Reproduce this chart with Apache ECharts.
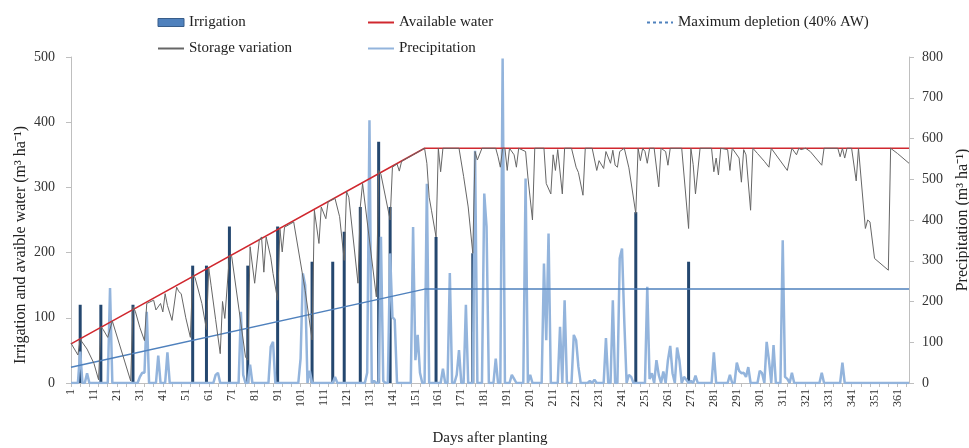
<!DOCTYPE html>
<html><head><meta charset="utf-8">
<script src="https://cdn.jsdelivr.net/npm/echarts@6/dist/echarts.min.js"></script>
<style>html,body{margin:0;padding:0;background:#fff}#c{width:969px;height:448px}</style>
</head><body><div id="c"></div>
<script>
// categories: days after planting 1..366
const dayCategories = [];
for (let d = 1; d <= 366; d++) dayCategories.push(String(d));

const leftTicks = [0, 100, 200, 300, 400, 500];
const rightTicks = [0, 100, 200, 300, 400, 500, 600, 700, 800];

// Irrigation events (m3/ha)
const irrigationDays   = [5, 14, 28, 54, 60, 70, 78, 91, 106, 115, 120, 127, 135, 140, 160, 176, 247, 270];
const irrigationValues = [120, 120, 120, 180, 180, 240, 180, 240, 186, 186, 232, 270, 370, 270, 224, 199, 262, 186];

// Available water (break points of the line)
const awDays   = [1, 155, 366];
const awValues = [60, 360, 360];

// Maximum depletion (40% AW)
const depDays   = [1, 155, 366];
const depValues = [24, 144, 144];

// Storage variation (break points)
const storageDays = [1,4,5,8,11,13,14,15,17,19,27,28,29,31,33,34,37,38,40,41,42,43,45,47,48,49,51,53,54,55,58,60,61,62,64,66,67,68,70,71,77,78,79,81,83,84,85,86,88,89,91,92,93,94,96,98,103,106,107,109,110,112,113,116,118,120,121,122,126,127,128,134,135,136,140,141,143,144,145,155,156,157,158,160,161,162,163,170,172,174,176,177,178,180,186,187,188,189,190,191,192,194,195,196,199,200,202,203,207,208,210,211,212,213,215,216,219,221,222,224,225,228,230,231,233,234,236,237,238,239,240,242,244,247,248,249,250,251,252,253,255,257,258,260,261,262,267,270,271,272,273,275,280,281,282,283,284,287,288,289,292,293,294,295,297,298,300,303,305,306,313,315,317,318,319,321,323,328,329,335,336,337,338,339,341,343,344,347,348,349,351,357,358,361,366];
const storageValues = [61,43,67,52,30,5,86,82,70,95,3,117,110,85,65,122,127,112,122,109,137,119,96,147,140,137,100,70,165,162,122,82,176,150,97,45,125,99,195,194,40,35,209,153,219,224,170,224,193,168,127,236,201,239,243,247,142,66,265,214,270,252,278,283,255,188,294,285,153,270,306,132,326,320,250,331,336,325,340,360,337,285,265,224,360,324,360,360,317,270,199,355,342,360,360,347,331,360,360,326,360,350,331,360,355,316,250,360,360,306,290,350,326,358,290,360,360,331,323,288,360,360,326,341,329,355,337,357,334,331,355,360,330,260,360,341,360,355,337,360,360,301,360,355,334,360,360,237,360,335,290,360,360,324,345,319,360,358,326,360,345,308,358,350,265,360,352,340,331,360,326,360,350,360,358,360,355,334,360,360,347,360,345,360,360,310,360,237,250,247,191,173,360,352,337];

// Precipitation (days with rain; all other days are 0)
const precipDays = [5,8,18,31,32,33,34,39,43,64,65,75,76,79,88,89,101,102,103,105,116,130,131,133,136,137,140,141,142,150,151,152,153,156,163,166,169,170,173,177,181,182,186,189,193,194,199,201,207,208,209,214,216,220,221,222,227,229,234,237,240,241,242,244,245,252,253,254,256,257,259,261,262,263,265,266,268,269,271,273,281,288,291,292,293,294,295,296,301,302,304,305,307,311,312,313,315,328,337];
const precipValues = [77,24,233,15,25,25,175,67,75,20,25,175,20,45,89,101,60,269,240,30,15,25,645,5,359,5,318,162,155,383,56,118,25,489,35,270,20,81,192,570,465,383,60,796,20,10,502,20,293,105,367,138,203,118,105,40,5,8,110,203,306,330,150,20,15,236,10,24,56,20,28,56,91,24,87,56,15,8,5,18,75,20,50,30,24,25,15,39,30,24,101,56,93,350,15,10,25,25,50];

const serif = "'Liberation Serif','Times New Roman',serif";

const irrigationData = irrigationDays.map((d, i) => [String(d), irrigationValues[i]]);
const awData = awDays.map((d, i) => [String(d), awValues[i]]);
const depData = depDays.map((d, i) => [String(d), depValues[i]]);
const storageData = storageDays.map((d, i) => [String(d), storageValues[i]]);
const precipData = dayCategories.map(() => 0);
precipDays.forEach((d, i) => { precipData[d - 1] = precipValues[i]; });

const legendText = { fontFamily: serif, fontSize: 15, color: '#222' };
const legendBase = { orient: 'vertical', itemGap: 11, itemWidth: 26, itemHeight: 8, textStyle: legendText,
  selectedMode: false, itemStyle: { opacity: 0 } };

const chart = echarts.init(document.getElementById('c'));
chart.setOption({
  animation: false,
  backgroundColor: '#fff',
  grid: { left: 71, right: 60, top: 57, bottom: 65, outerBoundsMode: 'none', containLabel: false },
  legend: [
    Object.assign({}, legendBase, { left: 152, top: 10, data: [
      { name: 'Irrigation', icon: 'rect', itemStyle: { color: '#4f81bd', borderColor: '#385d8a', borderWidth: 1, opacity: 1 } },
      { name: 'Storage variation' }
    ] }),
    Object.assign({}, legendBase, { left: 362, top: 10, data: [
      { name: 'Available water' },
      { name: 'Precipitation' }
    ] }),
    Object.assign({}, legendBase, { left: 641, top: 10, data: [
      { name: 'Maximum depletion (40% AW)', lineStyle: { type: [3, 3] } }
    ] })
  ],
  xAxis: {
    type: 'category', data: dayCategories, boundaryGap: false,
    axisLine: { lineStyle: { color: '#bfbfbf' } },
    axisTick: { show: true, interval: 3, length: 4, lineStyle: { color: '#bfbfbf' } },
    axisLabel: { interval: 9, rotate: 90, fontFamily: serif, fontSize: 12, color: '#333', margin: 6 },
    splitLine: { show: false },
    name: 'Days after planting', nameLocation: 'middle', nameGap: 48, nameMoveOverlap: false,
    nameTextStyle: { fontFamily: serif, fontSize: 15, color: '#222' }
  },
  yAxis: [
    {
      type: 'value', min: leftTicks[0], max: leftTicks[leftTicks.length - 1], interval: 100, position: 'left',
      axisLine: { show: true, lineStyle: { color: '#bfbfbf' } },
      axisTick: { show: true, length: 5, lineStyle: { color: '#bfbfbf' } },
      axisLabel: { fontFamily: serif, fontSize: 14, color: '#333', margin: 16 },
      splitLine: { show: false },
      name: 'Irrigation and avaible water (m³ ha⁻¹)', nameLocation: 'middle', nameGap: 42, nameRotate: 90,
      nameMoveOverlap: false,
      nameTextStyle: { fontFamily: serif, fontSize: 16, color: '#222', padding: [0, 50, 0, 0] }
    },
    {
      type: 'value', min: rightTicks[0], max: rightTicks[rightTicks.length - 1], interval: 100, position: 'right',
      axisLine: { show: true, lineStyle: { color: '#bfbfbf' } },
      axisTick: { show: true, length: 5, lineStyle: { color: '#bfbfbf' } },
      axisLabel: { fontFamily: serif, fontSize: 14, color: '#333', margin: 13 },
      splitLine: { show: false },
      name: 'Precipitation (m³ ha⁻¹)', nameLocation: 'middle', nameGap: 46, nameRotate: 90,
      nameTextStyle: { fontFamily: serif, fontSize: 16, color: '#222' }
    }
  ],
  series: [
    { name: 'Irrigation', type: 'bar', yAxisIndex: 0, data: irrigationData, barWidth: 3,
      itemStyle: { color: '#24476f' }, z: 2 },
    { name: 'Available water', type: 'line', yAxisIndex: 0, data: awData, symbol: 'none',
      lineStyle: { color: '#d0282f', width: 1.5 }, itemStyle: { color: '#d0282f' }, z: 4 },
    { name: 'Maximum depletion (40% AW)', type: 'line', yAxisIndex: 0, data: depData, symbol: 'none',
      lineStyle: { color: '#4f81bd', width: 1.5 }, itemStyle: { color: '#4f81bd' }, z: 4 },
    { name: 'Storage variation', type: 'line', yAxisIndex: 0, data: storageData, symbol: 'none',
      lineStyle: { color: '#666666', width: 1 }, itemStyle: { color: '#666666' }, z: 5 },
    { name: 'Precipitation', type: 'line', yAxisIndex: 1, data: precipData, symbol: 'none',
      lineStyle: { color: '#93b4dc', width: 2.5 }, itemStyle: { color: '#93b4dc' }, z: 3 }
  ]
});
</script>
</body></html>
